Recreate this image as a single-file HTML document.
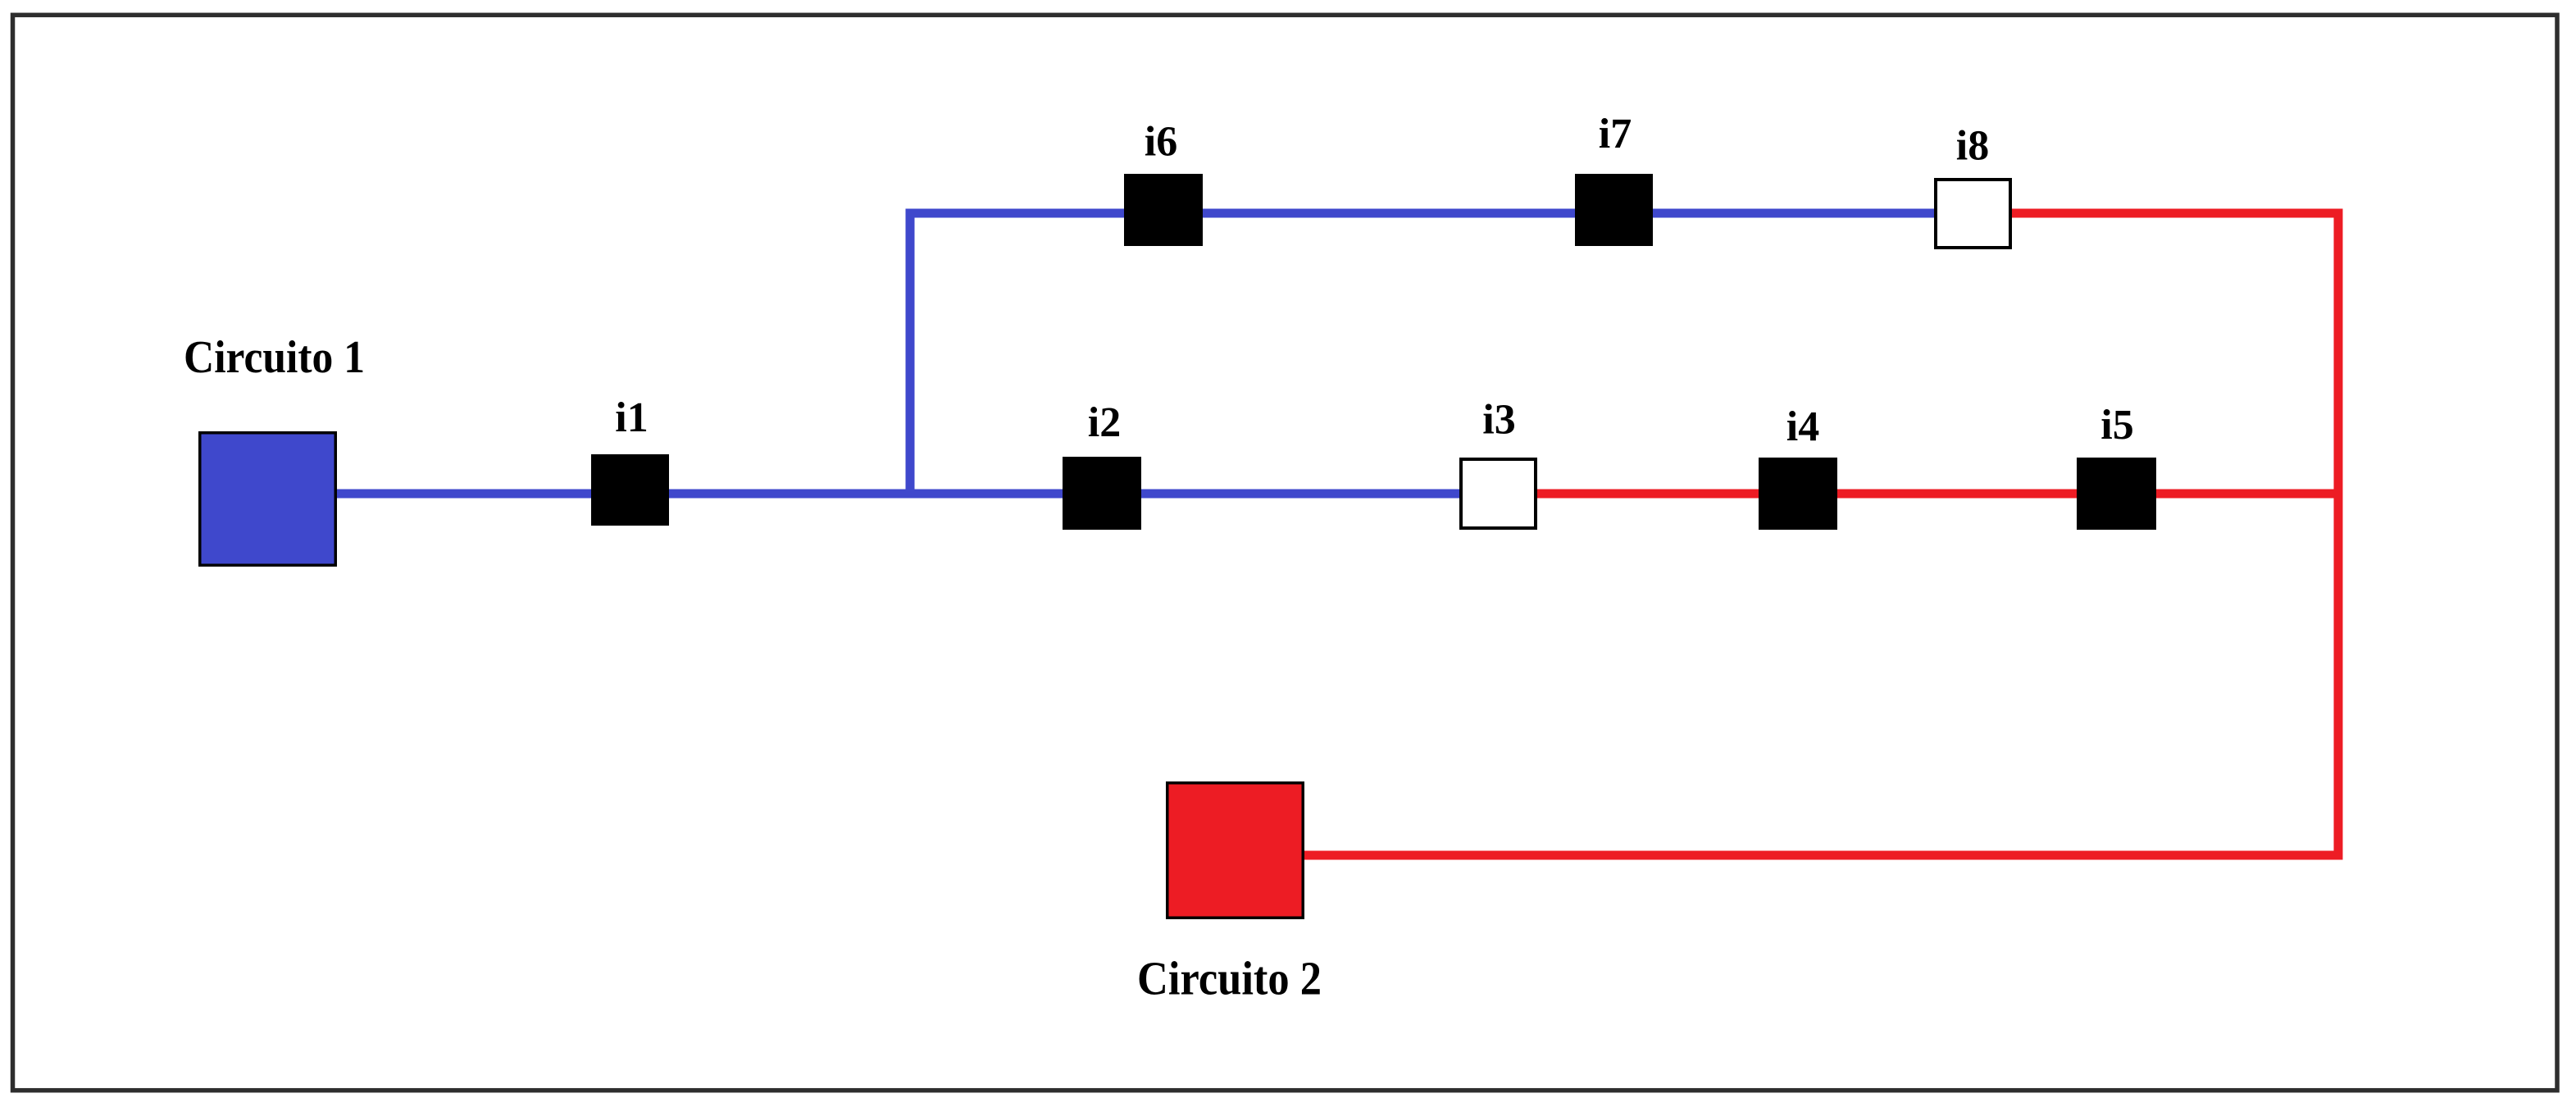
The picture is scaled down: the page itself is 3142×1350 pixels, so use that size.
<!DOCTYPE html>
<html>
<head>
<meta charset="utf-8">
<style>
  html, body { margin: 0; padding: 0; background: #ffffff; }
  body { width: 3142px; height: 1350px; overflow: hidden; }
  svg { display: block; }
  .lbl { font-family: "Liberation Serif", "DejaVu Serif", serif; font-weight: bold; fill: #000; }
</style>
</head>
<body>
<svg width="3142" height="1350" viewBox="0 0 3142 1350" xmlns="http://www.w3.org/2000/svg">
  <rect x="0" y="0" width="3142" height="1350" fill="#ffffff"/>
  <!-- outer frame -->
  <rect x="15.5" y="18.3" width="3103.5" height="1311.4" fill="none" stroke="#2e2e2e" stroke-width="5.5"/>

  <!-- blue connectors -->
  <g fill="none" stroke="#3f48cc" stroke-width="11" stroke-linejoin="miter">
    <line x1="411" y1="602" x2="1110" y2="602"/>
    <line x1="1104.5" y1="602" x2="1780" y2="602"/>
    <polyline points="1110,607.5 1110,260 2359,260" stroke-linecap="butt"/>
  </g>

  <!-- red connectors -->
  <g fill="none" stroke="#ed1c24" stroke-width="11" stroke-linejoin="miter">
    <line x1="1875" y1="602" x2="2852" y2="602"/>
    <polyline points="2454,260 2852,260 2852,1043 1591,1043"/>
  </g>

  <!-- source boxes -->
  <rect x="243.75" y="527.75" width="165.5" height="161.5" fill="#3f48cc" stroke="#000" stroke-width="3.5"/>
  <rect x="1423.75" y="954.75" width="165.5" height="164.5" fill="#ed1c24" stroke="#000" stroke-width="3.5"/>

  <!-- switches -->
  <rect x="721" y="554" width="95" height="87" fill="#000"/>
  <rect x="1296" y="557" width="96" height="89" fill="#000"/>
  <rect x="1782" y="560" width="91" height="84" fill="#fff" stroke="#000" stroke-width="4"/>
  <rect x="2145" y="558" width="96" height="88" fill="#000"/>
  <rect x="2533" y="558" width="97" height="88" fill="#000"/>
  <rect x="1371" y="212" width="96" height="88" fill="#000"/>
  <rect x="1921" y="212" width="95" height="88" fill="#000"/>
  <rect x="2361" y="219" width="91" height="83" fill="#fff" stroke="#000" stroke-width="4"/>

  <!-- labels -->
  <text class="lbl" x="770.5" y="526" font-size="52" text-anchor="middle">i1</text>
  <text class="lbl" x="1347" y="532" font-size="52" text-anchor="middle">i2</text>
  <text class="lbl" x="1828.5" y="528.5" font-size="52" text-anchor="middle">i3</text>
  <text class="lbl" x="2199" y="537" font-size="52" text-anchor="middle">i4</text>
  <text class="lbl" x="2582.5" y="535" font-size="52" text-anchor="middle">i5</text>
  <text class="lbl" x="1416" y="189.3" font-size="52" text-anchor="middle">i6</text>
  <text class="lbl" x="1970" y="180" font-size="52" text-anchor="middle">i7</text>
  <text class="lbl" x="2406" y="194.3" font-size="52" text-anchor="middle">i8</text>

  <text class="lbl" x="224" y="454" font-size="56" textLength="221" lengthAdjust="spacingAndGlyphs">Circuito 1</text>
  <text class="lbl" x="1387" y="1212.7" font-size="58" textLength="225" lengthAdjust="spacingAndGlyphs">Circuito 2</text>
</svg>
</body>
</html>
